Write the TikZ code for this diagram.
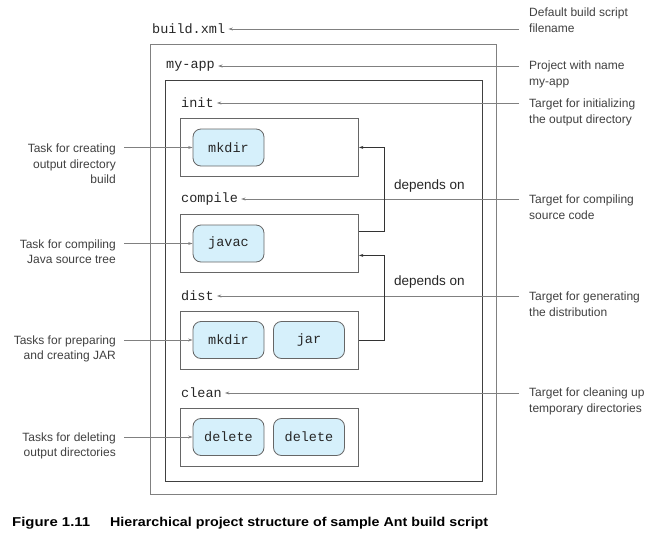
\documentclass[tikz,border=0pt]{standalone}
\usepackage{graphicx}
\usepackage{fontspec}
\setmainfont{Liberation Sans}
\newfontfamily\monofont{Liberation Mono}
\usetikzlibrary{arrows.meta}
\definecolor{taskfill}{HTML}{D6F0FB}
\definecolor{linegray}{HTML}{808080}
\definecolor{boxgray}{HTML}{666666}
\definecolor{txtgray}{HTML}{404040}
\begin{document}
\begin{tikzpicture}[x=1pt,y=-1pt,
  arr/.style={draw=linegray, line width=0.8pt, -{Stealth[length=4.5pt,width=3pt]}},
  dep/.style={draw=black!80, line width=0.8pt, -{Stealth[length=4.5pt,width=3pt]}},
  frame/.style={draw=boxgray, line width=0.9pt, inner sep=0pt, anchor=north west},
  task/.style={draw=boxgray, fill=taskfill, line width=0.8pt, rounded corners=8pt, minimum width=71pt, minimum height=37pt, inner sep=0pt, font=\monofont\fontsize{13.5}{16}\selectfont, text=black!85},
  code/.style={font=\monofont\fontsize{13.5}{16}\selectfont, text=black!85, inner sep=3pt, anchor=west},
  rlab/.style={font=\fontsize{12}{16}\selectfont, text=txtgray, align=left, anchor=north west, inner sep=0pt},
  llab/.style={font=\fontsize{12}{15.5}\selectfont, text=txtgray, align=right, anchor=north east, inner sep=0pt},
  deptxt/.style={font=\fontsize{13.5}{16}\selectfont, text=black!85, anchor=west, inner sep=0pt}
]
\useasboundingbox (0,0) rectangle (649,533);

% frames
\node[frame, draw=linegray, minimum width=346pt, minimum height=450pt] (build) at (150,44) {};
\node[frame, draw=black!75, minimum width=317pt, minimum height=401pt] (proj) at (165,80) {};
\node[frame, minimum width=178pt, minimum height=58pt] (ti) at (180,118) {};
\node[frame, minimum width=178pt, minimum height=58pt] (tc) at (180,214) {};
\node[frame, minimum width=178pt, minimum height=58pt] (td) at (180,311) {};
\node[frame, minimum width=178pt, minimum height=58pt] (tl) at (180,408) {};

% tasks
\node[task] (k1) at (228.5,147.5) {mkdir};
\node[task] (k2) at (228.5,243.5) {javac};
\node[task] (k3) at (228.5,340) {mkdir};
\node[task] (k4) at (309,340) {jar};
\node[task] (k5) at (228.5,437) {delete};
\node[task] (k6) at (309,437) {delete};

% code labels
\node[code] (bx) at (149,29) {build.xml};
\node[code] (ma) at (163,66) {my-app};
\node[code] (ci) at (178,103) {init};
\node[code] (cc) at (178,199) {compile};
\node[code] (cd) at (178,296) {dist};
\node[code] (cl) at (178,393) {clean};

% right labels
\node[rlab] (r1) at (529,8) {Default build script\\filename};
\node[rlab] (r2) at (529,61) {Project with name\\my-app};
\node[rlab] (r3) at (529,99) {Target for initializing\\the output directory};
\node[rlab] (r4) at (529,195) {Target for compiling\\source code};
\node[rlab] (r5) at (529,291.5) {Target for generating\\the distribution};
\node[rlab] (r6) at (529,388) {Target for cleaning up\\temporary directories};

\coordinate (p1) at (519,29);
\coordinate (p2) at (519,66);
\coordinate (p3) at (519,103);
\coordinate (p4) at (519,199);
\coordinate (p5) at (519,296);
\coordinate (p6) at (519,393);
\draw[arr] (p1) -- (bx.east);
\draw[arr] (p2) -- (ma.east);
\draw[arr] (p3) -- (ci.east);
\draw[arr] (p4) -- (cc.east);
\draw[arr] (p5) -- (cd.east);
\draw[arr] (p6) -- (cl.east);

% left labels
\node[llab] (l1) at (116,144) {Task for creating\\output directory\\build};
\node[llab] (l2) at (116,239.5) {Task for compiling\\Java source tree};
\node[llab] (l3) at (116,335.5) {Tasks for preparing\\and creating JAR};
\node[llab] (l4) at (116,432.5) {Tasks for deleting\\output directories};

\coordinate (q1) at (124,147.5);
\coordinate (q2) at (124,243.5);
\coordinate (q3) at (124,340);
\coordinate (q4) at (124,437);
\draw[arr] (q1) -- (k1.west);
\draw[arr] (q2) -- (k2.west);
\draw[arr] (q3) -- (k3.west);
\draw[arr] (q4) -- (k5.west);

% dependencies
\draw[dep] ([yshift=12pt]tc.east) -- ++(25,0) |- (ti.east);
\draw[dep] (td.east) -- ++(25,0) |- ([yshift=-12pt]tc.east);
\node[deptxt] (d1) at (394,186) {depends on};
\node[deptxt] (d2) at (394,282) {depends on};

% caption
\node[anchor=base west, inner sep=0pt] (cap1) at (12,526) {\resizebox{78pt}{9.3pt}{\bfseries Figure 1.11}};
\node[anchor=base west, inner sep=0pt] (cap2) at (110,526) {\resizebox{378pt}{9.3pt}{\bfseries Hierarchical project structure of sample Ant build script}};
\end{tikzpicture}
\end{document}
